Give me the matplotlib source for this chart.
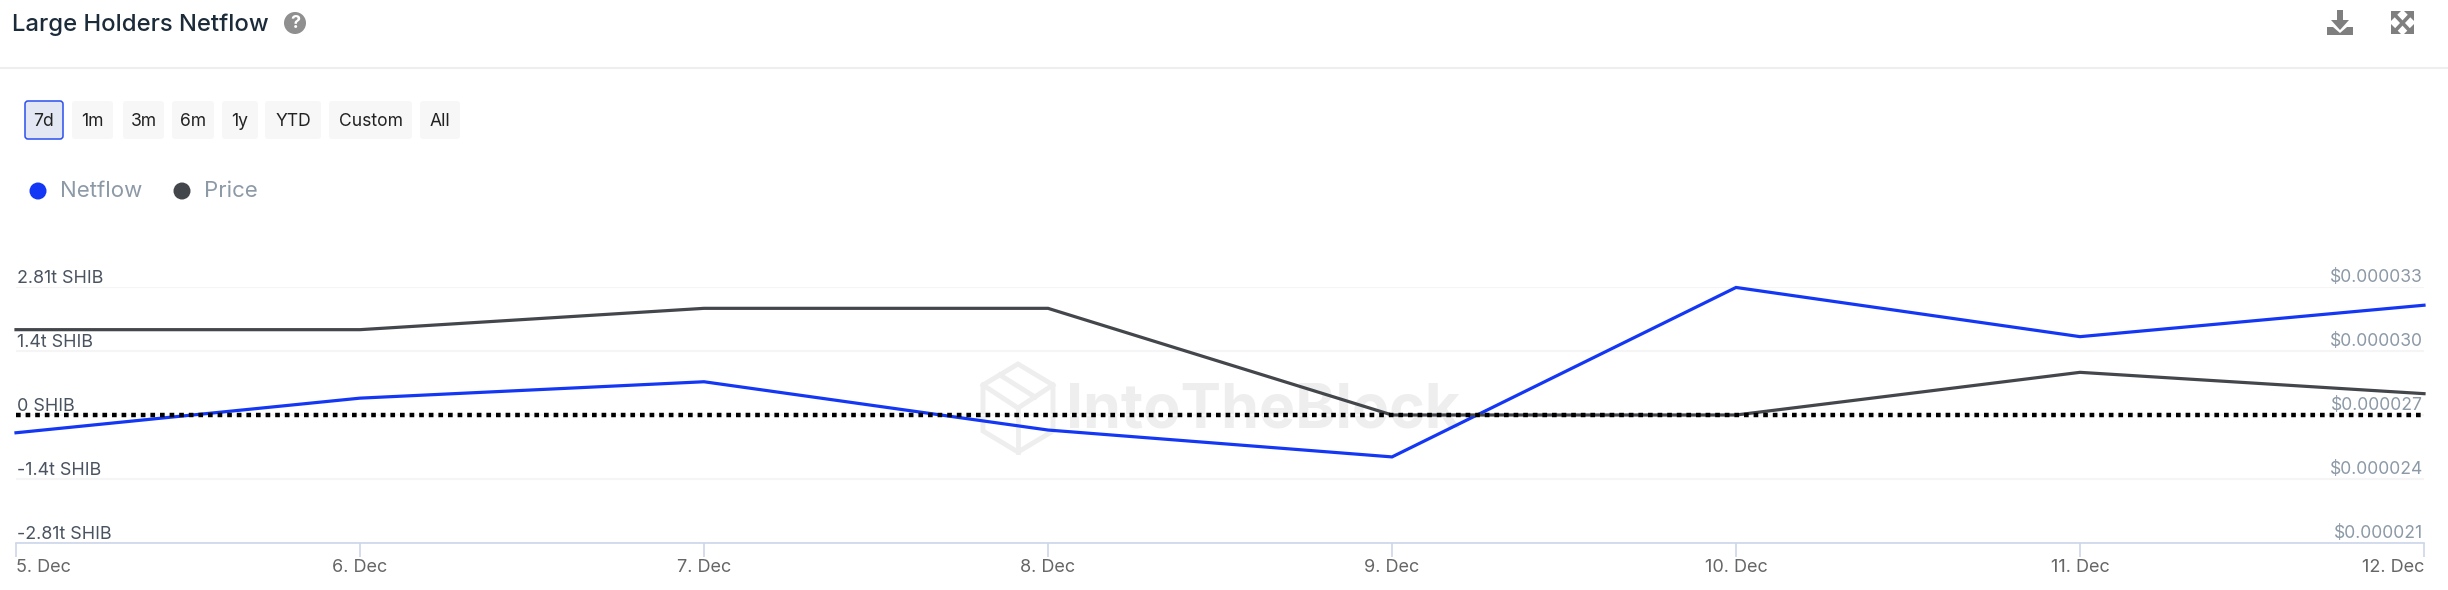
import matplotlib
matplotlib.use('Agg')
matplotlib.rcParams.update({'font.family': ['Inter', 'DejaVu Sans']})

from matplotlib import pyplot as plt
from matplotlib.patches import Circle, FancyBboxPatch, Polygon

# values
days = ['5. Dec', '6. Dec', '7. Dec', '8. Dec', '9. Dec', '10. Dec', '11. Dec', '12. Dec']
netflow = [-0.39, 0.37, 0.73, -0.33, -0.92, 2.8, 1.72, 2.41]  # trillion SHIB
price = [31, 31, 32, 32, 27, 27, 29, 28]  # millionths of a dollar

flow_ticks = [2.81, 1.4, 0, -1.4, -2.81]
flow_labels = ['2.81t SHIB', '1.4t SHIB', '0 SHIB', '-1.4t SHIB', '-2.81t SHIB']
price_ticks = [33, 30, 27, 24, 21]
price_labels = ['$0.000033', '$0.000030', '$0.000027', '$0.000024', '$0.000021']
buttons = ['7d', '1m', '3m', '6m', '1y', 'YTD', 'Custom', 'All']
button_edges = [(25, 63), (72, 113), (123, 164), (172, 214), (222, 258), (265, 321), (329, 412), (420, 460)]

W, H = 2448, 590
BLUE = '#1437f5'
DARK = '#43464b'
SLATE = '#8c99a6'

figure = plt.figure(figsize=(W / 100, H / 100), dpi=100, facecolor='white')

# page furniture, in pixel coordinates
ui = figure.add_axes([0, 0, 1, 1], zorder=0)
ui.set_xlim(0, W)
ui.set_ylim(H, 0)
ui.axis('off')

ui.text(12, 25, 'Large Holders Netflow', fontsize=17.2, fontweight='medium', color='#1c2b3a', va='center')
ui.add_patch(Circle((295, 23), 11, color='#8f8f8f', lw=0))
ui.text(295, 23.5, '?', fontsize=13, fontweight='bold', color='white', ha='center', va='center')
ui.plot([0, W], [68, 68], color='#eeeeee', lw=1.5)

# download icon
ui.add_patch(Polygon([(2337, 10), (2343, 10), (2343, 20), (2349, 20), (2340, 30), (2331, 20), (2337, 20)],
                     color='#7f7f7f', lw=0))
ui.add_patch(Polygon([(2327, 27), (2333, 27), (2340, 33), (2347, 27), (2353, 27), (2353, 35), (2327, 35)],
                     color='#7f7f7f', lw=0))

# expand icon
ui.plot([2395, 2410], [15, 31], color='#7f7f7f', lw=2.6)
ui.plot([2395, 2410], [31, 15], color='#7f7f7f', lw=2.6)
for cx, cy, dx, dy in [(2391, 11, 1, 1), (2414, 11, -1, 1), (2391, 34, 1, -1), (2414, 34, -1, -1)]:
    ui.add_patch(Polygon([(cx, cy), (cx + 10 * dx, cy), (cx, cy + 10 * dy)], color='#7f7f7f', lw=0))

# range buttons
for i, (label, (x0, x1)) in enumerate(zip(buttons, button_edges)):
    active = i == 0
    ui.add_patch(FancyBboxPatch((x0 + 2, 103), x1 - x0 - 4, 34, boxstyle='round,pad=2,rounding_size=3',
                                facecolor='#e3e7f3' if active else '#f7f7f7',
                                edgecolor='#2a4fef' if active else 'none', lw=1.1))
    ui.text((x0 + x1) / 2, 122, label, fontsize=12.6, color='#222222', ha='center', va='center')

# legend
ui.add_patch(Circle((38, 191), 8.5, color=BLUE, lw=0))
ui.add_patch(Circle((182, 191), 8.5, color=DARK, lw=0))
ui.text(60, 191, 'Netflow', fontsize=16, color=SLATE, va='center')
ui.text(204, 191, 'Price', fontsize=16, color=SLATE, va='center')

# watermark
ui.text(1066, 412, 'IntoTheBlock', fontsize=43.8, fontweight='bold', color='#eeeeee', va='center')
hexagon = [(1018, 364), (1053, 385), (1053, 431), (1018, 452), (983, 431), (983, 385)]
ui.add_patch(Polygon(hexagon, fill=False, edgecolor='#eeeeee', lw=3.5))
ui.plot([983, 1018, 1053], [385, 408, 385], color='#eeeeee', lw=3.5)
ui.plot([1018, 1018], [408, 452], color='#eeeeee', lw=3.5)
ui.plot([1000, 1035], [375, 397], color='#eeeeee', lw=3.5)

# chart
left, right, top, bottom = 16, 2424, 287, 543
box = [left / W, 1 - bottom / H, (right - left) / W, (bottom - top) / H]
axes = figure.add_axes(box, zorder=1)
axes.patch.set_visible(False)
x = list(range(len(days)))
axes.set_xlim(0, len(days) - 1)
axes.set_ylim(-2.81, 2.81)
axes.set_yticks(flow_ticks)
axes.set_yticklabels([])
axes.grid(axis='y', color='#f5f5f5', lw=1.5)
axes.tick_params(axis='y', length=0)
for side in ['top', 'left', 'right']:
    axes.spines[side].set_visible(False)
axes.spines['bottom'].set_color('#ccd6eb')
axes.spines['bottom'].set_linewidth(1.2)
axes.set_xticks(x)
axes.set_xticklabels(days, fontsize=13, color='#666666')
axes.tick_params(axis='x', length=10, width=1.2, color='#ccd6eb', pad=1.8)
tick_text = axes.get_xticklabels()
tick_text[0].set_ha('left')
tick_text[-1].set_ha('right')
axes.plot(x, netflow, color=BLUE, lw=2.3, solid_joinstyle='miter', clip_on=False, zorder=3)

price_axes = axes.twinx()
price_axes.set_zorder(2)
price_axes.patch.set_visible(False)
price_axes.set_ylim(21, 33)
price_axes.set_yticks(price_ticks)
price_axes.set_yticklabels([])
price_axes.tick_params(axis='y', length=0)
for side in ['top', 'left', 'right', 'bottom']:
    price_axes.spines[side].set_visible(False)
price_axes.plot(x, price, color=DARK, lw=2.3, solid_joinstyle='miter', clip_on=False, zorder=3)
price_axes.axhline(27, color='black', lw=3.2, linestyle=(0, (1.05, 1.11)), zorder=4)

for value, label in zip(flow_ticks, flow_labels):
    axes.annotate(label, (0, value), xycoords=axes.get_yaxis_transform(), xytext=(1, 4),
                  textcoords='offset pixels', fontsize=12.9, color='#4a5360', ha='left', va='baseline')
for value, label in zip(price_ticks, price_labels):
    price_axes.annotate(label, (1, value), xycoords=price_axes.get_yaxis_transform(), xytext=(-1, 5),
                        textcoords='offset pixels', fontsize=12.6, color=SLATE, ha='right', va='baseline')

figure.savefig('out.png', dpi=100)
